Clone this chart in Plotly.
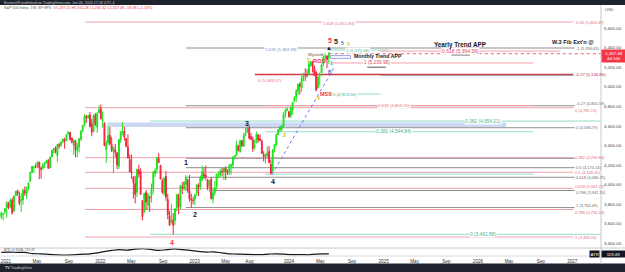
import pandas as pd
import plotly.graph_objects as go

# ---------------- weekly OHLC (SP:SPX, 1W) ----------------
opens = [
    3675, 3698, 3723,
    3764, 3803, 3781, 3842, 3731, 3892, 3939, 3885, 3842, 3844, 3942, 3916, 3969, 4034, 4124, 4179, 4185, 4191, 4228, 4169, 4170, 4216, 4229, 4248,
    4174, 4284, 4356, 4372, 4296, 4409, 4407, 4438, 4461, 4450, 4514, 4535, 4474, 4402, 4442, 4348, 4385, 4463, 4553, 4610, 4701, 4689, 4712, 4628, 4548, 4710, 4587, 4733,
    4778, 4655, 4632, 4357, 4431, 4506, 4412, 4332, 4354, 4327, 4188, 4462, 4541, 4547, 4474, 4385, 4255, 4130, 4081, 4013, 3920, 4152, 4135, 3838, 3715, 3920,
    3792, 3880, 3883, 3965, 4113, 4155, 4269, 4195, 4041, 3910, 4084, 3849, 3682, 3610, 3640, 3638, 3764, 3882, 3778, 3978, 3956, 4005, 4053, 3940, 3853, 3843,
    3853, 3911, 3999, 3979, 4049, 4105, 4096, 4052, 3993, 4055, 3855, 3917, 3982, 4102, 4100, 4139, 4134, 4166, 4136, 4126, 4190, 4205, 4283, 4300, 4396, 4337,
    4450, 4394, 4505, 4543, 4584, 4492, 4464, 4385, 4427, 4511, 4469, 4445, 4310, 4284, 4289, 4342, 4211, 4139, 4364, 4407, 4514, 4555, 4569, 4593, 4725, 4758,
    4745, 4703, 4765, 4854, 4892, 4957, 5026, 4989, 5093, 5131, 5123, 5132, 5219, 5258, 5201, 5149, 4987, 5115, 5142, 5233, 5305, 5316, 5297,
]
highs = [
    3726, 3711, 3760,
    3826, 3823, 3859, 3870, 3887, 3937, 3950, 3929, 3915, 3960, 3983, 3979, 4020, 4129, 4192, 4194, 4218, 4238, 4236, 4188, 4220, 4234, 4255, 4261,
    4286, 4356, 4372, 4394, 4415, 4429, 4440, 4469, 4480, 4513, 4546, 4536, 4486, 4465, 4457, 4429, 4475, 4559, 4608, 4718, 4714, 4717, 4744, 4672, 4713, 4732, 4741, 4809,
    4819, 4749, 4632, 4453, 4595, 4590, 4489, 4385, 4416, 4327, 4465, 4546, 4637, 4593, 4471, 4513, 4308, 4307, 4081, 4091, 4158, 4204, 4168, 3838, 3914, 3946,
    3918, 3881, 4012, 4141, 4167, 4280, 4325, 4204, 4062, 4076, 4140, 3907, 3733, 3807, 3712, 3762, 3906, 3911, 3998, 4028, 4034, 4100, 4053, 4101, 3906, 3878,
    3906, 4003, 4015, 4094, 4195, 4176, 4195, 4052, 4048, 4079, 3965, 4039, 4110, 4134, 4163, 4170, 4170, 4187, 4154, 4212, 4213, 4290, 4299, 4448, 4408, 4458,
    4456, 4527, 4578, 4594, 4607, 4528, 4491, 4458, 4541, 4512, 4511, 4465, 4341, 4318, 4393, 4393, 4256, 4366, 4415, 4521, 4569, 4598, 4609, 4738, 4778, 4793,
    4755, 4798, 4842, 4904, 4976, 5030, 5048, 5111, 5140, 5190, 5180, 5261, 5265, 5264, 5220, 5168, 5114, 5146, 5239, 5325, 5342, 5315, 5355,
]
lows = [
    3648, 3636, 3699,
    3663, 3749, 3761, 3694, 3725, 3884, 3885, 3789, 3723, 3794, 3885, 3853, 3939, 4034, 4118, 4118, 4168, 4168, 4057, 4062, 4155, 4167, 4215, 4164,
    4166, 4276, 4321, 4321, 4233, 4367, 4385, 4425, 4368, 4450, 4513, 4456, 4423, 4306, 4279, 4279, 4330, 4447, 4537, 4596, 4631, 4672, 4585, 4495, 4532, 4600, 4531, 4733,
    4662, 4582, 4396, 4223, 4405, 4401, 4335, 4115, 4279, 4157, 4161, 4425, 4506, 4450, 4381, 4267, 4128, 4062, 3859, 3810, 3875, 4073, 3900, 3637, 3715, 3741,
    3742, 3722, 3819, 3911, 4079, 4115, 4219, 4057, 3906, 3886, 3838, 3647, 3584, 3610, 3492, 3591, 3730, 3698, 3751, 3906, 3940, 3937, 3918, 3828, 3765, 3800,
    3794, 3886, 3885, 3949, 4037, 4060, 4047, 3944, 3928, 3847, 3809, 3889, 3951, 4070, 4079, 4087, 4049, 4048, 4098, 4099, 4103, 4166, 4261, 4292, 4341, 4328,
    4384, 4385, 4498, 4528, 4463, 4458, 4336, 4357, 4427, 4431, 4449, 4313, 4238, 4216, 4284, 4223, 4104, 4127, 4329, 4394, 4510, 4537, 4546, 4593, 4688, 4751,
    4682, 4682, 4714, 4842, 4845, 4918, 4920, 4946, 5057, 5057, 5094, 5123, 5204, 5146, 5108, 4954, 4986, 5011, 5142, 5211, 5257, 5191, 5234,
]
closes = [
    3709, 3703, 3756,
    3824, 3768, 3841, 3714, 3887, 3934, 3907, 3811, 3842, 3943, 3913, 3975, 4020, 4129, 4185, 4180, 4181, 4233, 4174, 4156, 4204, 4230, 4247, 4166,
    4281, 4352, 4370, 4327, 4412, 4395, 4437, 4468, 4442, 4509, 4535, 4459, 4433, 4455, 4357, 4391, 4471, 4545, 4605, 4697, 4683, 4698, 4595, 4538, 4712, 4620, 4725, 4766,
    4677, 4662, 4398, 4432, 4500, 4419, 4349, 4385, 4329, 4204, 4463, 4543, 4546, 4488, 4392, 4272, 4132, 4123, 4024, 3901, 4158, 4109, 3901, 3675, 3912, 3825,
    3899, 3863, 3962, 4130, 4145, 4280, 4228, 4058, 3924, 4067, 3873, 3693, 3586, 3640, 3583, 3752, 3901, 3771, 3993, 3965, 4026, 4072, 3934, 3852, 3845, 3840,
    3895, 3999, 3973, 4071, 4136, 4090, 4079, 3970, 4046, 3862, 3917, 3971, 4109, 4105, 4138, 4133, 4169, 4136, 4124, 4192, 4205, 4282, 4299, 4410, 4348, 4450,
    4399, 4505, 4536, 4582, 4478, 4464, 4370, 4406, 4516, 4457, 4450, 4320, 4288, 4308, 4327, 4224, 4117, 4358, 4415, 4514, 4559, 4595, 4604, 4719, 4755, 4770,
    4697, 4784, 4840, 4891, 4959, 5027, 5006, 5089, 5137, 5124, 5117, 5234, 5254, 5204, 5123, 4967, 5100, 5128, 5223, 5303, 5305, 5278, 5337.48,
]
first_week = "2020-12-14"

# ---------------- ATR(14) pane ----------------
atr_dates = ["2020-12-14", "2021-01-15", "2021-02-15", "2021-03-15", "2021-04-15", "2021-05-15", "2021-06-15", "2021-07-15",
             "2021-08-15", "2021-09-15", "2021-10-15", "2021-11-15", "2021-12-15", "2022-01-15", "2022-02-15", "2022-03-15",
             "2022-04-15", "2022-05-15", "2022-06-15", "2022-07-15", "2022-08-15", "2022-09-15", "2022-10-15", "2022-11-15",
             "2022-12-15", "2023-01-15", "2023-02-15", "2023-03-15", "2023-04-15", "2023-05-15", "2023-06-15", "2023-07-15",
             "2023-08-15", "2023-09-15", "2023-10-15", "2023-11-15", "2023-12-15", "2024-01-15", "2024-02-15", "2024-03-15",
             "2024-04-15", "2024-05-15", "2024-06-03"]
atr_values = [150, 155, 150, 150, 125, 120, 110, 100, 92, 98, 110, 115, 135, 165, 190, 205,
              195, 215, 225, 210, 190, 205, 220, 205, 190, 170, 155, 160, 140, 120, 115, 110,
              105, 105, 115, 120, 112, 105, 105, 100, 115, 120, 119.49]
atr_last = 119.49
last_price = 5337.48

# ---------------- drawn levels (price, label) ----------------
pink_fib = [(5661, "-0.65 (5,654.49)"), (5125, "-0.27 (5,126.80)"), (4786, "0 (4,785.13)"), (4276, "0.382 (4,296.84)"),
            (4127, "0.5 (4,148.45)"), (3963, "0.618 (3,963.72)"), (3747, "0.786 (3,750.18)"), (3466, "1 (3,466.10)")]
gray_fib = [(5396, "-1 (5,396.63)"), (4806, "-0.27 (4,804.59)"), (4582, "0 (4,583.79)"), (4270, ""),
            (4174, "0.5 (4,174.14)"), (4076, "0.618 (4,086.75)"), (3941, "0.786 (3,941.70)"), (3767, "1 (3,764.49)")]
teal_long = [(4650, "0.382 (4,654.21)"), (3494, "0 (3,491.58)")]
teal_mid = [(4541, "0.382 (4,544.84)"), (4109, "")]
pink_mid = [(4809, "0.618 (4,806.35)")]
teal_short = [(5375, "1 (5,375.08)"), (4926, "0 (4,953.56)")]
yearly_level = (5365, "0.618 (5,364.56)")
monthly_level = (5243, "1 (5,239.98)")
zone_top, zone_bottom = 4635, 4589

wave_labels = [  # (date, price, text, color, size)
    ("2022-11-28", 4222, "1", "#131722", 7), ("2023-01-03", 3701, "2", "#131722", 7),
    ("2023-07-23", 4625, "3", "#131722", 7), ("2023-10-31", 4033, "4", "#131722", 7),
    ("2022-10-05", 3410, "4", "#f23645", 7), ("2023-12-17", 4508, "2", "#d4c21c", 6),
    ("2024-03-16", 5268, "3", "#d4c21c", 4.6), ("2024-04-26", 4885, "4", "#d4c21c", 5),
    ("2024-06-09", 5477, "5", "#f23645", 7), ("2024-07-02", 5467, "5", "#131722", 7),
    ("2024-07-25", 5447, "5", "#5b5fd6", 5), ("2024-08-20", 5437, "5", "#d4c21c", 5),
]

# ================= figure =================
W, H = 625, 272
top_px, plot_bottom_px, pane_split_px = 5, 256, 248
plot_h = plot_bottom_px - top_px
split = (plot_bottom_px - pane_split_px) / plot_h

def py(p):  # pixel row -> paper y
    return (plot_bottom_px - p) / plot_h

weeks = pd.date_range(first_week, periods=len(closes), freq="7D")
assert len(opens) == len(highs) == len(lows) == len(closes)

GREEN, RED = "#1fe01f", "#f2253d"
fig = go.Figure()
fig.add_trace(go.Candlestick(
    x=weeks, open=opens, high=highs, low=lows, close=closes,
    increasing=dict(line=dict(color=GREEN, width=1), fillcolor=GREEN),
    decreasing=dict(line=dict(color=RED, width=1), fillcolor=RED),
    whiskerwidth=0, xaxis="x", yaxis="y", showlegend=False))
fig.add_trace(go.Scatter(x=pd.to_datetime(atr_dates), y=atr_values, mode="lines",
                         line=dict(color="#131722", width=1.2, shape="spline"),
                         xaxis="x2", yaxis="y2", showlegend=False))

X0, X1 = "2020-12-09", "2027-04-22"
shapes, annos = [], []

def seg(p, x0, x1, color, width=1, dash="solid"):
    shapes.append(dict(type="line", xref="x", yref="y", x0=x0, x1=x1, y0=p, y1=p,
                       line=dict(color=color, width=width, dash=dash), layer="below"))

def lab(x, p, text, color, size=4.3, anchor="left", bg=None, bold=False, yshift=0):
    if not text:
        return
    if bold:
        text = "<b>" + text + "</b>"
    d = dict(xref="x", yref="y", x=x, y=p, text=text, showarrow=False, xanchor=anchor, yanchor="middle",
             font=dict(size=size, color=color, family="Liberation Sans, Arial"), borderpad=0, yshift=yshift)
    if bg:
        d["bgcolor"] = bg
    annos.append(d)

PINK, GRAY, TEAL, DRED = "#f4a0ab", "#8e8e8e", "#93dcc6", "#d33a48"
# blue zone
shapes.append(dict(type="rect", xref="x", yref="y", x0="2022-01-28", x1="2026-04-20", y0=zone_bottom, y1=zone_top,
                   fillcolor="#cad8f6", line=dict(width=0), layer="below"))
# label nudges so neighbouring right-edge labels don't sit on each other
pink_shift = {4786: -2.5, 3963: 1.5, 3747: -2.5}
gray_shift = {4806: 2.5, 3941: -2.0, 3767: 2.5}
# pink fib (long)
for p, t in pink_fib:
    if p == 5125:
        seg(p, "2023-08-22", "2027-01-05", DRED, 1.4)
        seg(p - 8, "2024-12-19", "2027-01-05", GRAY, 0.8)
        lab("2027-01-08", p, t, "#b02a37")
    else:
        seg(p, "2021-11-03", "2027-01-05", PINK, 1)
        lab("2027-01-08", p, t, "#e26d7c", size=4.0, yshift=pink_shift.get(p, 0))
lab("2024-07-12", 5648, "1.618 (5,651.84)", "#e26d7c", anchor="center", bg="white")
# gray fib
for p, t in gray_fib:
    x0 = "2023-03-13" if p == 3941 else "2022-11-28"
    seg(p, x0, "2027-01-10", GRAY, 1)
    lab("2027-01-12", p, t, "#6b6b6b", size=4.0, yshift=gray_shift.get(p, 0))
lab("2023-11-30", 5384, "1.618 (5,384.38)", "#7f8fc4", anchor="center", bg="white")
# teal
for p, t in teal_long:
    seg(p, "2022-07-13", X1, TEAL, 1)
    lab("2026-01-20", p, t, "#3fb58f", anchor="center", bg="white", size=4.8)
for p, t in teal_mid:
    seg(p, "2023-10-01", "2026-08-03", TEAL, 1)
    lab("2025-02-10", p, t, "#3fb58f", anchor="center", bg="white", size=4.8)
for p, t in pink_mid:
    seg(p, "2023-10-01", "2026-08-03", PINK, 1)
    lab("2025-02-10", p, t, "#e26d7c", anchor="center", bg="white")
seg(teal_short[0][0], "2024-06-05", "2025-01-20", TEAL, 1)
lab("2024-09-25", teal_short[0][0], teal_short[0][1], "#3fb58f", anchor="center", bg="white")
seg(teal_short[1][0], "2024-06-05", "2024-12-19", TEAL, 1)
lab("2024-06-16", teal_short[1][0], teal_short[1][1], "#3fb58f", anchor="left", bg="white")
lab("2023-10-20", 5069, "0 (5,083.07)", "#e26d7c", anchor="center")
# yearly / monthly
seg(yearly_level[0], "2024-12-19", "2026-11-16", PINK, 1)
lab("2025-10-25", yearly_level[0], yearly_level[1], "#e0465a", anchor="center", bg="white", size=5)
shapes.append(dict(type="line", xref="x", yref="y", x0="2025-09-20", x1="2025-12-01", y0=5325, y1=5325,
                   line=dict(color="#555", width=1)))
seg(monthly_level[0], "2024-06-09", "2026-08-03", PINK, 1)
lab("2024-12-05", monthly_level[0], monthly_level[1], "#e0465a", anchor="center", bg="white", size=4.8)
shapes.append(dict(type="line", xref="x", yref="y", x0="2024-10-30", x1="2025-01-10", y0=5200, y1=5200,
                   line=dict(color="#555", width=1)))
lab("2025-10-25", 5430, "Yearly Trend APP", "#131722", anchor="center", size=6.3, bold=True)
lab("2024-12-10", 5312, "Monthly Trend APP", "#131722", anchor="center", size=5.2, bold=True)
lab("2027-01-05", 5462, "W.3 Fib Ext'n @", "#131722", anchor="center", size=5.6, bold=True)
# current price dotted line
seg(last_price, "2024-06-03", X1, "#f23645", 0.8, "dot")
# dashed trend line wave 4 -> 5
shapes.append(dict(type="line", xref="x", yref="y", x0="2023-10-27", y0=4103, x1="2024-06-24", y1=5198,
                   line=dict(color="#6a78ee", width=1, dash="dot")))
# Wyckoff label & box
lab("2024-04-16", 5330, "Wyckoff", "#555", anchor="center", size=4.3)
shapes.append(dict(type="rect", xref="x", yref="y", x0="2024-06-09", x1="2024-08-26", y0=5290, y1=5318,
                   line=dict(color="#7c8cd6", width=0.8), fillcolor="rgba(0,0,0,0)"))
lab("2024-04-28", 5263, "ROS", "#f23645", anchor="center", size=5.8, bold=True)
lab("2024-05-22", 4926, "MSS", "#f23645", anchor="center", size=5.5, bold=True)
lab("2024-06-12", 5242, "1", "#27b7d8", anchor="center", size=5, bold=True)
lab("2024-06-08", 5150, "B", "#5b5fd6", anchor="center", size=5, bold=True)
lab("2024-06-05", 5392, "▲", "#131722", anchor="center", size=6)
for d, p, t, c, s in wave_labels:
    lab(d, p, t, c, anchor="center", size=s, bold=True)

# paper-level decorations
shapes += [
    dict(type="rect", xref="paper", yref="paper", x0=-0.01, x1=1.05, y0=1.0, y1=py(-2), fillcolor="#1e222d",
         line=dict(width=0), layer="above"),
    dict(type="rect", xref="paper", yref="paper", x0=-0.01, x1=1.05, y0=py(263.5), y1=py(275), fillcolor="#1e222d",
         line=dict(width=0), layer="above"),
    dict(type="line", xref="paper", yref="paper", x0=0, x1=1.045, y0=split, y1=split, line=dict(color="#c8c8c8", width=1)),
    dict(type="line", xref="paper", yref="paper", x0=1, x1=1, y0=py(263.5), y1=1, line=dict(color="#c8c8c8", width=1)),
    dict(type="line", xref="paper", yref="paper", x0=0, x1=1.045, y0=0, y1=0, line=dict(color="#d8d8d8", width=1)),
]
annos += [
    dict(xref="paper", yref="paper", x=0.003, y=py(2.6), text="Eastern99 published on TradingView.com, Jun 06, 2024 17:26 UTC-4",
         showarrow=False, xanchor="left", yanchor="middle", font=dict(size=3.6, color="#c9cbd1", family="Liberation Sans")),
    dict(xref="paper", yref="paper", x=0.004, y=py(8.2),
         text="S&P 500 Index, 1W, SP:SPX  <span style='color:#f23645'>O5,297.15 H5,355.28 L5,234.32 C5,337.48 +59.48 (+1.13%)</span>",
         showarrow=False, xanchor="left", yanchor="middle", font=dict(size=3.7, color="#555", family="Liberation Sans")),
    dict(xref="paper", yref="paper", x=0.005, y=py(268), text="<b>TV</b> TradingView", showarrow=False, xanchor="left",
         yanchor="middle", font=dict(size=3.8, color="#d0d3da", family="Liberation Sans")),
    dict(xref="paper", yref="paper", x=1.004, y=py(9.5), text="USD", showarrow=False, xanchor="left", yanchor="middle",
         font=dict(size=4, color="#555", family="Liberation Sans")),
    dict(xref="paper", yref="y", x=1.0, y=last_price - 25, text="5,337.48<br>4d 10h", showarrow=False, xanchor="left",
         yanchor="middle", bgcolor="#f23645", font=dict(size=4.3, color="white", family="Liberation Sans"),
         borderpad=0.5, width=23, align="center"),
    dict(xref="paper", yref="y2", x=1.0, y=atr_last, text="119.49", showarrow=False, xanchor="left", yanchor="middle",
         bgcolor="#131722", font=dict(size=4.3, color="white", family="Liberation Sans"), borderpad=0.5, width=22),
    dict(xref="paper", yref="y2", x=0.998, y=atr_last, text="ATR", showarrow=False, xanchor="right", yanchor="middle",
         bgcolor="#131722", font=dict(size=4.3, color="white", family="Liberation Sans"), borderpad=0.5),
    dict(xref="paper", yref="y2", x=0.004, y=200, text="ATR 14 RMA  119.49", showarrow=False, xanchor="left",
         yanchor="middle", font=dict(size=3.3, color="#666", family="Liberation Sans")),
]

tick_dates = ["2021-01-01", "2021-05-01", "2021-09-01", "2022-01-01", "2022-05-01", "2022-09-01", "2023-01-01",
              "2023-05-01", "2023-08-01", "2024-01-01", "2024-05-01", "2024-09-01", "2025-01-01", "2025-05-01",
              "2025-09-01", "2026-01-01", "2026-05-01", "2026-09-01", "2027-01-01"]
tick_text = ["2021", "May", "Sep", "2022", "May", "Sep", "2023", "May", "Aug", "2024", "May", "Sep", "2025", "May",
             "Sep", "2026", "May", "Sep", "2027"]
price_ticks = [3400, 3600, 3800, 4000, 4200, 4400, 4600, 4800, 5000, 5200, 5400, 5600]

fig.update_layout(
    width=W, height=H, margin=dict(l=0, r=24, t=top_px, b=H - plot_bottom_px),
    paper_bgcolor="white", plot_bgcolor="white",
    font=dict(family="Liberation Sans, Arial", size=5, color="#333"),
    xaxis=dict(type="date", range=[X0, X1], domain=[0, 1], anchor="y", showticklabels=False, showgrid=False,
               zeroline=False, rangeslider=dict(visible=False), ticks=""),
    xaxis2=dict(type="date", range=[X0, X1], domain=[0, 1], anchor="y2", matches="x", showgrid=False, zeroline=False,
                tickvals=tick_dates, ticktext=tick_text, tickfont=dict(size=4.6, color="#333"), ticks="", ticklabelstandoff=1),
    yaxis=dict(domain=[split, 1], range=[3354, 5835], side="right", showgrid=False, zeroline=False,
               tickvals=price_ticks, ticktext=[f"{v:,.2f}" for v in price_ticks], tickfont=dict(size=4.4, color="#444"),
               ticks="", ticklabelstandoff=2),
    yaxis2=dict(domain=[0, split], range=[75, 240], showgrid=False, zeroline=False, showticklabels=False, side="right"),
    shapes=shapes, annotations=annos, showlegend=False,
)
fig.write_html("out.html")
